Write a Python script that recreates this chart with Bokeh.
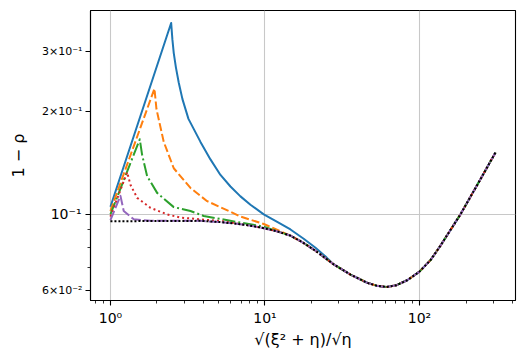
from bokeh.plotting import figure
from bokeh.models import Range1d, FixedTicker, LogAxis
from bokeh.embed import file_html
from bokeh.resources import INLINE

# limiting curve (black dotted)
black_x = [1.0, 1.815, 3.825, 5.152, 6.94, 8.30, 9.82, 12.05, 14.62, 17.49, 21.23, 27.87, 35.76, 45.86, 52.7, 60.87, 71.0, 83.24, 99.5, 117.8, 136.8, 184.1, 239.1, 310.4]
black_y = [0.0954, 0.0956, 0.0957, 0.0949, 0.0936, 0.0924, 0.0911, 0.0891, 0.0866, 0.0828, 0.0782, 0.0713, 0.0666, 0.0630, 0.0618, 0.0612, 0.0620, 0.0641, 0.0678, 0.0734, 0.0810, 0.1000, 0.1231, 0.1519]

blue_x = [1.0, 2.471, 2.519, 2.569, 2.654, 2.768, 2.924, 3.198, 3.825, 4.438, 5.152, 5.979, 6.94, 8.055, 9.82, 12.0, 14.62, 17.8, 21.23, 25.0]
blue_y = [0.1053, 0.3641, 0.3246, 0.2971, 0.2694, 0.2432, 0.2177, 0.1905, 0.1631, 0.1449, 0.1305, 0.1207, 0.1129, 0.1067, 0.1000, 0.0951, 0.0903, 0.0848, 0.0798, 0.0748]

orange_x = [1.0, 1.927, 1.985, 2.213, 2.569, 3.295, 4.226, 5.979, 6.94, 9.82, 12.05]
orange_y = [0.1023, 0.2337, 0.2036, 0.1631, 0.1365, 0.1195, 0.1093, 0.1018, 0.0985, 0.0937, 0.0900]

green_x = [1.0, 1.548, 1.604, 1.728, 2.005, 2.569, 3.295, 4.018, 6.94, 9.82]
green_y = [0.1000, 0.1660, 0.1492, 0.1294, 0.1156, 0.1050, 0.1023, 0.0989, 0.0946, 0.0920]

red_x = [1.0, 1.283, 1.347, 1.489, 1.815, 2.328, 2.839, 3.825, 5.152]
red_y = [0.0985, 0.1329, 0.1221, 0.1118, 0.1045, 0.1000, 0.0978, 0.0967, 0.0956]

purple_x = [1.0, 1.161, 1.219, 1.415, 1.815]
purple_y = [0.0961, 0.1133, 0.1023, 0.0967, 0.0958]

x_major = [1, 10, 100]
x_labels = ["10\u2070", "10\u00b9", "10\u00b2"]
y_big_ticks = [0.1]
y_big_labels = ["10\u207b\u00b9"]
y_small_ticks = [0.06, 0.2, 0.3]
y_small_labels = ["6\u00d710\u207b\u00b2", "2\u00d710\u207b\u00b9", "3\u00d710\u207b\u00b9"]
y_minor = [0.07, 0.08, 0.09]


def extend(xs, ys):
    last = xs[-1]
    ex = [x for x in black_x if x > last * 1.05]
    ey = [y for x, y in zip(black_x, black_y) if x > last * 1.05]
    return xs + ex, ys + ey


FONT = "DejaVu Sans"
BL, BT = 90, 10
OUTER_PULL = 35
p = figure(width=519, height=351, x_axis_type="log", y_axis_type="log",
           x_range=Range1d(0.743, 418), y_range=Range1d(0.0559, 0.396),
           output_backend="svg", toolbar_location=None,
           min_border_left=BL, min_border_right=4, min_border_top=BT, min_border_bottom=47)
p.background_fill_color = "white"
p.border_fill_color = "white"
p.outline_line_color = "black"
p.outline_line_width = 1.1

series = [
    (blue_x, blue_y, "#1f77b4", None),
    (orange_x, orange_y, "#ff7f0e", "8 3"),
    (green_x, green_y, "#2ca02c", "13 3 2 3"),
    (red_x, red_y, "#d62728", "2 3"),
    (purple_x, purple_y, "#9467bd", "10 3"),
]
for xs, ys, col, dash in series:
    fx, fy = extend(xs, ys)
    if dash is None:
        p.line(fx, fy, line_color=col, line_width=2, line_join="round")
    else:
        p.line(fx, fy, line_color=col, line_width=2, line_dash=dash, line_join="round")
p.line(black_x, black_y, line_color="black", line_width=2, line_dash="2 2", line_join="round")

minor_x = [m * d for d in [0.1, 1, 10, 100] for m in range(2, 10) if 0.743 <= m * d <= 418 and m * d not in x_major]

# inner y axis: all ticks, only the big 10^-1 label
yticks_all = sorted(y_big_ticks + y_small_ticks)
p.xaxis.ticker = FixedTicker(ticks=x_major, minor_ticks=minor_x)
p.yaxis.ticker = FixedTicker(ticks=yticks_all, minor_ticks=y_minor)
p.xaxis.major_label_overrides = dict(zip(x_major, x_labels))
ov = {t: "" for t in y_small_ticks}
ov.update(dict(zip(y_big_ticks, y_big_labels)))
p.yaxis.major_label_overrides = ov

# outer y axis: small labels only, pulled toward the frame
outer = LogAxis(ticker=FixedTicker(ticks=y_small_ticks, minor_ticks=[]),
                major_label_overrides=dict(zip(y_small_ticks, y_small_labels)),
                axis_line_color=None, major_tick_line_color=None, minor_tick_line_color=None,
                major_tick_in=0, major_tick_out=0, minor_tick_in=0, minor_tick_out=0,
                major_label_standoff=-OUTER_PULL,
                major_label_text_font=FONT, major_label_text_font_size="11px",
                major_label_text_color="black",
                axis_label="1 \u2212 \u03c1", axis_label_standoff=11,
                axis_label_text_font=FONT, axis_label_text_font_size="16px",
                axis_label_text_font_style="normal", axis_label_text_color="black")
p.add_layout(outer, "left")

p.xgrid.ticker = FixedTicker(ticks=x_major)
p.ygrid.ticker = FixedTicker(ticks=y_big_ticks)
for g in (p.xgrid, p.ygrid):
    g.grid_line_color = "#c8c8c8"
    g.grid_line_width = 1.1

main_y = p.yaxis[0]
for ax in (p.xaxis[0], main_y):
    ax.axis_line_color = "black"
    ax.axis_line_width = 1.1
    ax.major_tick_line_color = "black"
    ax.minor_tick_line_color = "black"
    ax.major_tick_line_width = 1.1
    ax.minor_tick_line_width = 0.8
    ax.major_tick_in = 0
    ax.major_tick_out = 5
    ax.minor_tick_in = 0
    ax.minor_tick_out = 3
    ax.major_label_text_font = FONT
    ax.major_label_text_color = "black"
    ax.major_label_text_font_size = "14px"
    ax.axis_label_text_font = FONT
    ax.axis_label_text_font_style = "normal"
    ax.axis_label_text_font_size = "16px"
    ax.axis_label_text_color = "black"
    ax.major_label_standoff = 4

p.xaxis[0].axis_label = "\u221a(\u03be\u00b2 + \u03b7)/\u221a\u03b7"
p.xaxis[0].axis_label_standoff = 1

open("out.html", "w").write(file_html(p, INLINE))
